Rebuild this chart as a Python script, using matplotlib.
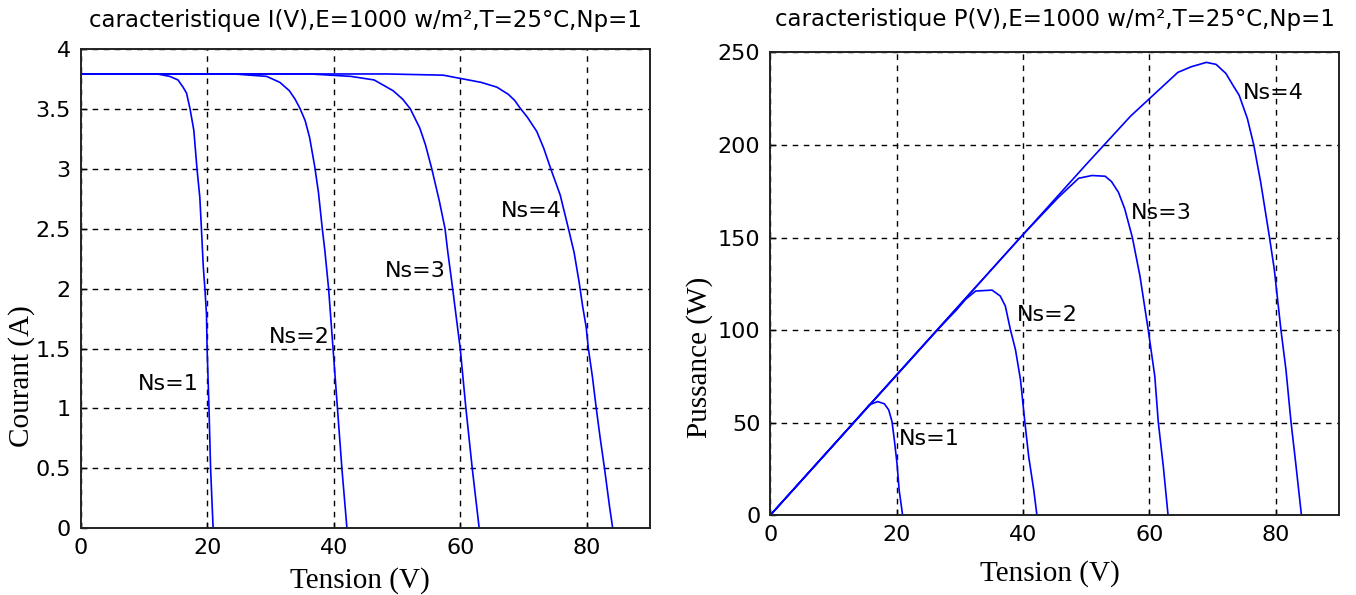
"""
I(V) and P(V) curves of the PV module, Ns = 1..4 cells in series, Np=1.
Values read off the old matlab figure.
"""
import matplotlib
matplotlib.use('Agg')
import matplotlib.pyplot as plt

# I(V) curves (tension V, courant A)
volt_i_ns1 = [0, 6, 12.1, 14.1, 15.4, 16.2, 16.75, 17.3, 17.9, 18.4, 18.85, 19.1, 19.4, 19.65, 19.9, 20.0, 20.3, 20.55, 20.95]
curr_ns1 = [3.79, 3.79, 3.79, 3.77, 3.74, 3.68, 3.63, 3.50, 3.32, 3.00, 2.76, 2.50, 2.18, 2.00, 1.79, 1.50, 1.00, 0.50, 0.00]

volt_i_ns2 = [0, 12, 24.2, 29.4, 31.5, 33.0, 33.9, 34.7, 35.5, 36.2, 37.0, 37.6, 38.2, 38.6, 39.2, 39.9, 40.6, 41.3, 42.1]
curr_ns2 = [3.79, 3.79, 3.79, 3.77, 3.72, 3.65, 3.58, 3.50, 3.40, 3.26, 3.02, 2.80, 2.50, 2.32, 2.00, 1.50, 1.00, 0.50, 0.00]

volt_i_ns3 = [0, 18, 36.3, 42.7, 46.4, 49.4, 50.9, 52.1, 53.6, 54.5, 55.5, 56.7, 57.6, 58.0, 58.8, 60.0, 60.9, 61.9, 63.0]
curr_ns3 = [3.79, 3.79, 3.79, 3.77, 3.74, 3.65, 3.58, 3.50, 3.34, 3.20, 3.00, 2.73, 2.50, 2.32, 2.00, 1.50, 1.00, 0.50, 0.00]

volt_i_ns4 = [0, 24, 48.4, 57.3, 60.3, 63.3, 65.8, 67.6, 68.6, 69.4, 70.6, 72.1, 73.2, 74.3, 75.8, 77.1, 78.0, 78.8, 79.35, 79.9, 80.25, 80.9, 81.5, 82.1, 82.8, 83.6, 84.1]
curr_ns4 = [3.79, 3.79, 3.79, 3.78, 3.75, 3.72, 3.68, 3.62, 3.57, 3.51, 3.43, 3.31, 3.17, 3.00, 2.78, 2.50, 2.30, 2.05, 1.85, 1.68, 1.50, 1.26, 1.00, 0.76, 0.50, 0.18, 0.00]

# P(V) curves (tension V, puissance W)
volt_p_ns1 = [0, 9.4, 14.5, 15.7, 17.0, 18.06, 18.75, 19.27, 19.64, 20.06, 20.4, 20.95]
pow_ns1 = [0, 35.6, 55.0, 59.7, 61.4, 60.2, 56.9, 50.6, 40.7, 28.0, 13.6, 0]

volt_p_ns2 = [0, 26.7, 29.5, 30.9, 32.5, 35.1, 36.4, 37.2, 38.0, 38.8, 39.6, 40.3, 40.9, 41.7, 42.2]
pow_ns2 = [0, 101.0, 111.0, 116.6, 121.1, 121.6, 118.4, 113.0, 100.3, 89.5, 73.2, 50.0, 31.6, 13.6, 0]

volt_p_ns3 = [0, 40, 45.6, 48.8, 50.9, 53.0, 54.0, 55.1, 56.1, 57.3, 58.5, 59.8, 60.85, 61.4, 62.2, 62.95]
pow_ns3 = [0, 151.6, 171.7, 182.0, 183.5, 183.1, 180.2, 174.4, 165.4, 150.0, 129.2, 100.3, 75.0, 50.3, 26.2, 0]

volt_p_ns4 = [0, 50, 57, 60, 64.5, 66.6, 69.0, 70.55, 72.1, 73.2, 74.2, 75.5, 76.5, 77.6, 79.0, 79.75, 80.8, 81.6, 82.4, 83.15, 84.05]
pow_ns4 = [0, 189.5, 215.5, 225.0, 239.2, 242.2, 244.6, 243.5, 238.6, 232.3, 226.8, 214.2, 200.1, 179.9, 150.0, 132.9, 100.3, 78.6, 50.3, 28.0, 0]

labels = ['Ns=1', 'Ns=2', 'Ns=3', 'Ns=4']
# where the Ns=.. text sits (left edge, vertical middle)
lab_pos_i = [(9.0, 1.2), (29.7, 1.6), (48.1, 2.15), (66.4, 2.65)]
lab_pos_p = [(20.3, 41), (39.0, 108), (57.0, 163), (74.8, 228)]

x_ticks = [0, 20, 40, 60, 80]
i_ticks = [0, 0.5, 1, 1.5, 2, 2.5, 3, 3.5, 4]
i_tick_labels = ['0', '0.5', '1', '1.5', '2', '2.5', '3', '3.5', '4']
p_ticks = [0, 50, 100, 150, 200, 250]

SANS = ['DejaVu Sans']
SERIF = ['Liberation Serif', 'DejaVu Serif']
BLUE = '#0000ff'


def style_axes(ax):
    ax.set_xlim(0, 90)
    ax.set_xticks(x_ticks)
    ax.grid(True, color='black', linestyle=(0, (4, 4)), linewidth=1.0)
    ax.tick_params(direction='in', length=4, width=1, labelsize=16, pad=7)
    for lab in ax.get_xticklabels() + ax.get_yticklabels():
        lab.set_family(SANS)
    for sp in ax.spines.values():
        sp.set_linewidth(1.4)
        sp.set_color('#222222')


def place_labels(ax, xl, yl):
    # axis label centres, in axes fraction
    ax.xaxis.set_label_coords(*xl)
    ax.yaxis.set_label_coords(*yl)
    ax.xaxis.label.set_verticalalignment('center')
    ax.yaxis.label.set_verticalalignment('center')


fig = plt.figure(figsize=(13.56, 5.95), dpi=100)
ax1 = fig.add_axes([0.0594, 0.112, 0.420, 0.806])
ax2 = fig.add_axes([0.568, 0.134, 0.4195, 0.778])

curves_i = [(volt_i_ns1, curr_ns1), (volt_i_ns2, curr_ns2), (volt_i_ns3, curr_ns3), (volt_i_ns4, curr_ns4)]
for v, c in curves_i:
    ax1.plot(v, c, color=BLUE, linewidth=1.2)
ax1.set_ylim(0, 4)
ax1.set_yticks(i_ticks)
ax1.set_yticklabels(i_tick_labels)
style_axes(ax1)
for txt, (x, y) in zip(labels, lab_pos_i):
    ax1.text(x, y, txt, ha='left', va='center', fontsize=16, family=SANS)
ax1.text(0.5, 1.059, 'caracteristique I(V),E=1000 w/m²,T=25°C,Np=1', transform=ax1.transAxes,
         ha='center', va='center', fontsize=16.5, family=SANS)
ax1.set_xlabel('Tension (V)', fontsize=21, family=SERIF)
ax1.set_ylabel('Courant (A)', fontsize=21, family=SERIF)
place_labels(ax1, (0.49, -0.108), (-0.103, 0.317))

curves_p = [(volt_p_ns1, pow_ns1), (volt_p_ns2, pow_ns2), (volt_p_ns3, pow_ns3), (volt_p_ns4, pow_ns4)]
for v, p in curves_p:
    ax2.plot(v, p, color=BLUE, linewidth=1.2)
ax2.set_ylim(0, 250)
ax2.set_yticks(p_ticks)
style_axes(ax2)
for txt, (x, y) in zip(labels, lab_pos_p):
    ax2.text(x, y, txt, ha='left', va='center', fontsize=16, family=SANS)
ax2.text(0.5, 1.072, 'caracteristique P(V),E=1000 w/m²,T=25°C,Np=1', transform=ax2.transAxes,
         ha='center', va='center', fontsize=16.5, family=SANS)
ax2.set_xlabel('Tension (V)', fontsize=21, family=SERIF)
ax2.set_ylabel('Pussance (W)', fontsize=21, family=SERIF)
place_labels(ax2, (0.492, -0.126), (-0.124, 0.341))

fig.savefig('out.png', dpi=100)
